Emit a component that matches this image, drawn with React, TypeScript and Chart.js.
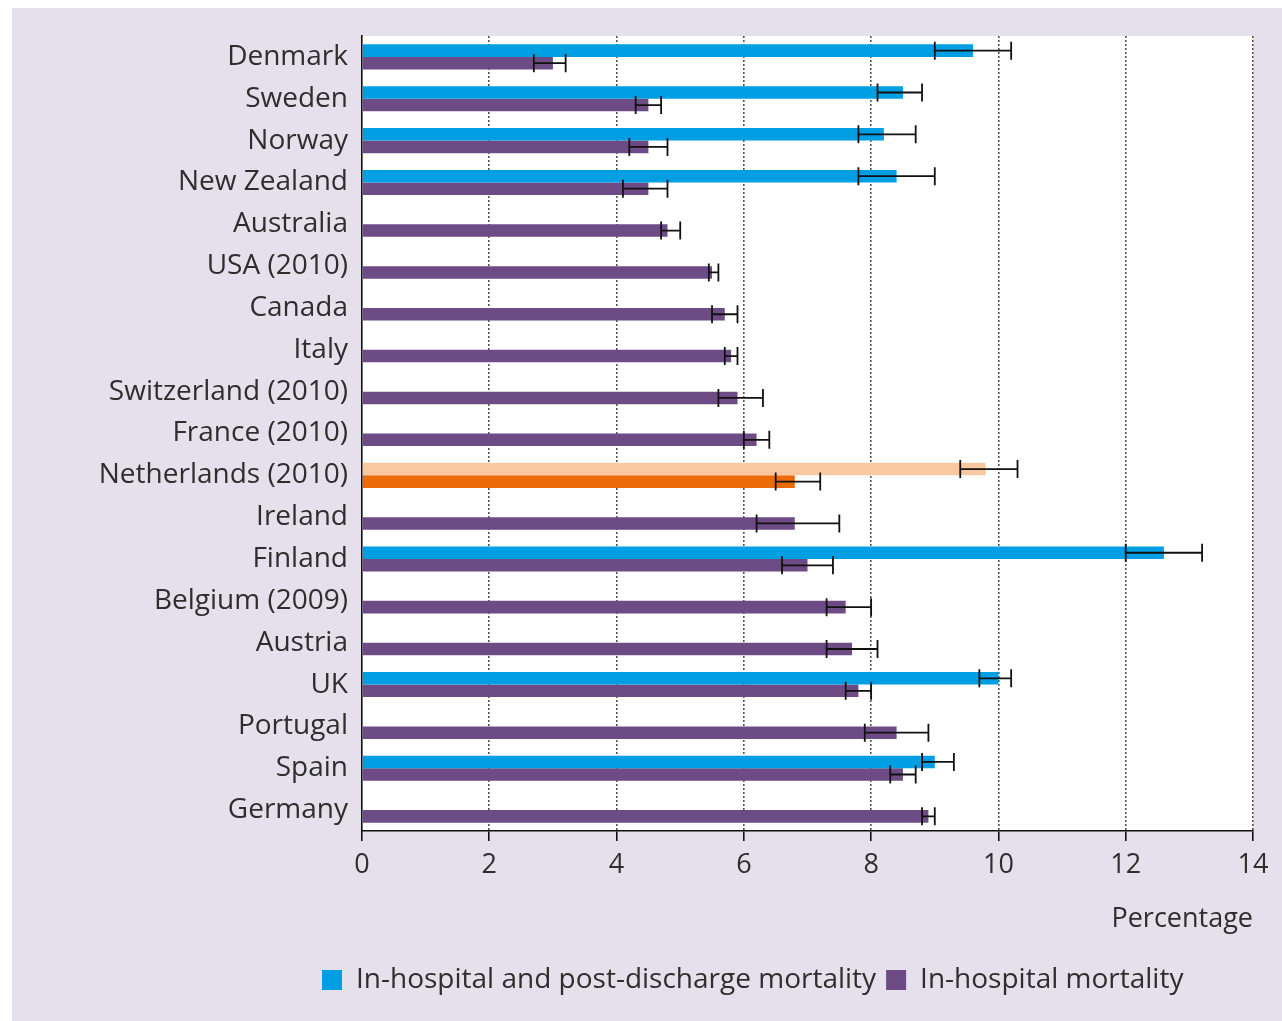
import React, { useEffect, useRef } from "react";
import { Chart, registerables } from "chart.js";

Chart.register(...registerables);

const categories = [
  "Denmark", "Sweden", "Norway", "New Zealand", "Australia", "USA (2010)", "Canada", "Italy",
  "Switzerland (2010)", "France (2010)", "Netherlands (2010)", "Ireland", "Finland",
  "Belgium (2009)", "Austria", "UK", "Portugal", "Spain", "Germany",
];

const postDischarge = [9.6, 8.5, 8.2, 8.4, null, null, null, null, null, null, 9.8, null, 12.6, null, null, 10.0, null, 9.0, null];
const postLow = [9.0, 8.1, 7.8, 7.8, null, null, null, null, null, null, 9.4, null, 12.0, null, null, 9.7, null, 8.8, null];
const postHigh = [10.2, 8.8, 8.7, 9.0, null, null, null, null, null, null, 10.3, null, 13.2, null, null, 10.2, null, 9.3, null];

const inHospital = [3.0, 4.5, 4.5, 4.5, 4.8, 5.5, 5.7, 5.8, 5.9, 6.2, 6.8, 6.8, 7.0, 7.6, 7.7, 7.8, 8.4, 8.5, 8.9];
const inLow = [2.7, 4.3, 4.2, 4.1, 4.7, 5.45, 5.5, 5.7, 5.6, 6.0, 6.5, 6.2, 6.6, 7.3, 7.3, 7.6, 7.9, 8.3, 8.8];
const inHigh = [3.2, 4.7, 4.8, 4.8, 5.0, 5.6, 5.9, 5.9, 6.3, 6.4, 7.2, 7.5, 7.4, 8.0, 8.1, 8.0, 8.9, 8.7, 9.0];

const xTicks = [0, 2, 4, 6, 8, 10, 12, 14];

const highlightIndex = 10;
const BLUE = "#009fe3";
const PURPLE = "#6d4c86";
const LIGHT_ORANGE = "#f9c8a0";
const ORANGE = "#ec6a08";
const TEXT = "#2e2e2e";
const FONT = "'Open Sans', sans-serif";

const errorLows = [postLow, inLow];
const errorHighs = [postHigh, inHigh];

const chartAreaBg = {
  id: "chartAreaBg",
  beforeDraw(chart: any) {
    const { ctx, chartArea } = chart;
    ctx.save();
    ctx.fillStyle = "#ffffff";
    ctx.fillRect(chartArea.left, chartArea.top, chartArea.right - chartArea.left, chartArea.bottom - chartArea.top);
    ctx.restore();
  },
};

const legendShift = {
  id: "legendShift",
  afterLayout(chart: any) {
    if (chart.legend) chart.legend.left = 300;
  },
};

const errorBars = {
  id: "errorBars",
  afterDatasetsDraw(chart: any) {
    const { ctx } = chart;
    const xs = chart.scales.x;
    ctx.save();
    ctx.strokeStyle = "#111111";
    ctx.lineWidth = 1.8;
    for (let d = 0; d < 2; d++) {
      const meta = chart.getDatasetMeta(d);
      const lows = errorLows[d];
      const highs = errorHighs[d];
      meta.data.forEach((bar: any, i: number) => {
        if (lows[i] == null || highs[i] == null) return;
        const y = bar.y;
        const x1 = xs.getPixelForValue(lows[i]);
        const x2 = xs.getPixelForValue(highs[i]);
        const h = 9;
        ctx.beginPath();
        ctx.moveTo(x1, y);
        ctx.lineTo(x2, y);
        ctx.moveTo(x1, y - h);
        ctx.lineTo(x1, y + h);
        ctx.moveTo(x2, y - h);
        ctx.lineTo(x2, y + h);
        ctx.stroke();
      });
    }
    ctx.restore();
  },
};

export default function App() {
  const ref = useRef<HTMLCanvasElement | null>(null);

  useEffect(() => {
    if (!ref.current) return;
    Chart.defaults.font.family = FONT;
    const chart = new Chart(ref.current, {
      type: "bar",
      data: {
        labels: categories,
        datasets: [
          {
            label: "In-hospital and post-discharge mortality",
            data: postDischarge as any,
            backgroundColor: (c: any) => (c.dataIndex === highlightIndex ? LIGHT_ORANGE : BLUE),
            borderWidth: 0,
            categoryPercentage: 0.6,
            barPercentage: 1.0,
          },
          {
            label: "In-hospital mortality",
            data: inHospital,
            backgroundColor: (c: any) => (c.dataIndex === highlightIndex ? ORANGE : PURPLE),
            borderWidth: 0,
            categoryPercentage: 0.6,
            barPercentage: 1.0,
          },
        ],
      },
      options: {
        indexAxis: "y",
        animation: false,
        responsive: true,
        maintainAspectRatio: false,
        layout: { padding: { left: 10, right: 29, top: 27, bottom: 17 } },
        plugins: {
          tooltip: { enabled: false },
          legend: {
            display: true,
            position: "bottom",
            align: "start",
            labels: {
              boxWidth: 20,
              boxHeight: 20,
              padding: 10,
              color: TEXT,
              font: { size: 28, family: FONT },
            },
          },
        },
        scales: {
          x: {
            type: "linear",
            min: 0,
            max: 14,
            afterBuildTicks: (s: any) => {
              s.ticks = xTicks.map((v) => ({ value: v }));
            },
            afterFit: (s: any) => {
              s.height = 125;
            },
            ticks: { color: TEXT, font: { size: 27, family: FONT }, padding: 8 },
            grid: {
              display: true,
              color: (c: any) => (c.tick && c.tick.value === 0 ? "rgba(0,0,0,0)" : "#555555"),
              lineWidth: 1.6,
              drawTicks: true,
              tickLength: 10,
              tickColor: "#111111",
              tickWidth: 1.6,
            },
            border: { display: true, color: "#111111", width: 1.6, dash: [2, 2] },
            title: {
              display: true,
              text: "Percentage",
              align: "end",
              color: TEXT,
              font: { size: 27, family: FONT },
              padding: { top: 0, bottom: 20 },
            },
          },
          y: {
            afterFit: (s: any) => {
              s.width = 340;
            },
            ticks: { color: TEXT, font: { size: 28, family: FONT, lineHeight: 1.0 }, padding: 14, autoSkip: false },
            grid: { display: true, color: "rgba(0,0,0,0)", drawTicks: false },
            border: { display: true, color: "#111111", width: 1.6 },
          },
        },
      },
      plugins: [chartAreaBg, legendShift, errorBars],
    });
    return () => chart.destroy();
  }, []);

  return (
    <div
      style={{
        position: "fixed",
        left: 12,
        top: 8,
        width: 1270,
        height: 1013,
        background: "#e5e0ec",
      }}
    >
      <canvas ref={ref} />
    </div>
  );
}
